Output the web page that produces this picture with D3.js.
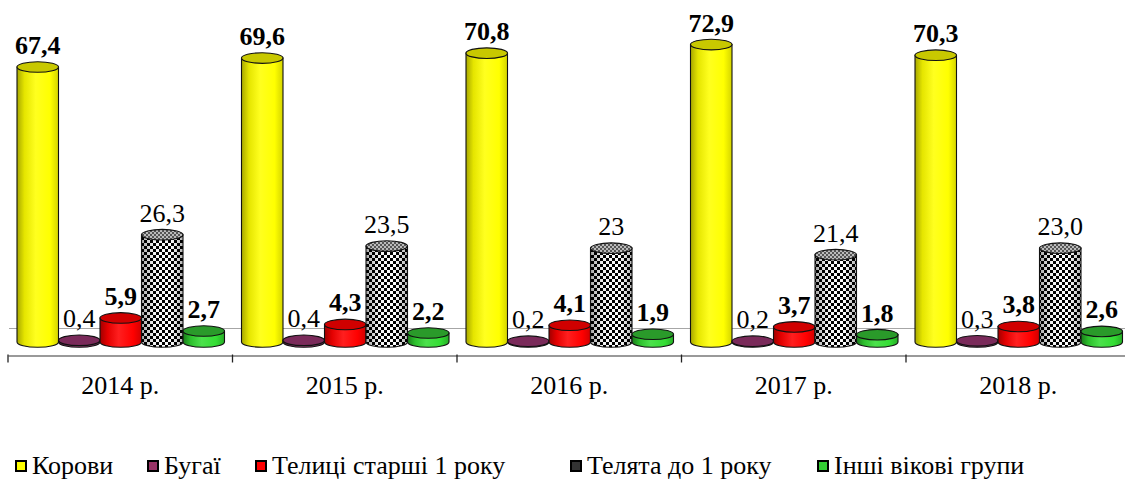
<!DOCTYPE html>
<html><head><meta charset="utf-8">
<script src="https://cdn.jsdelivr.net/npm/d3@7"></script>
</head><body>
<svg id="c" width="1125" height="481" style="position:absolute;left:0;top:0"></svg>
<script>
const years = ["2014 р.", "2015 р.", "2016 р.", "2017 р.", "2018 р."];
const seriesNames = ["Корови", "Бугаї", "Телиці старші 1 року", "Телята до 1 року", "Інші вікові групи"];
const cows    = [67.4, 69.6, 70.8, 72.9, 70.3];
const bulls   = [0.4, 0.4, 0.2, 0.2, 0.3];
const heifers = [5.9, 4.3, 4.1, 3.7, 3.8];
const calves  = [26.3, 23.5, 23.0, 21.4, 23.0];
const others  = [2.7, 2.2, 1.9, 1.8, 2.6];
const labelText = [
  ["67,4","69,6","70,8","72,9","70,3"],
  ["0,4","0,4","0,2","0,2","0,3"],
  ["5,9","4,3","4,1","3,7","3,8"],
  ["26,3","23,5","23","21,4","23,0"],
  ["2,7","2,2","1,9","1,8","2,6"]
];
const values = [cows, bulls, heifers, calves, others];

const styles = [
  {id:"yel", base:"#ffff00", dark:"#a8a800", top:"#c8c800", bold:true},
  {id:"pur", base:"#8a3468", dark:"#4e1a3a", top:"#7a2a5a", bold:false},
  {id:"red", base:"#ff0000", dark:"#a00000", top:"#d00000", bold:true},
  {id:"chk", base:"#ffffff", dark:"#000000", top:"#888888", bold:false, pattern:true},
  {id:"grn", base:"#33dd33", dark:"#1a7a1a", top:"#2a9a2a", bold:true}
];
const legendFill = ["#ffff00","#993366","#ff0000","#333333","#33cc33"];
const legendX = [15, 147, 255, 570, 817];

const svg = d3.select("#c");
const defs = svg.append("defs");
styles.forEach(s => {
  const g = defs.append("linearGradient").attr("id","g_"+s.id).attr("x1","0").attr("x2","1").attr("y1","0").attr("y2","0");
  if (!s.pattern) {
    g.append("stop").attr("offset","0").attr("stop-color",s.dark);
    g.append("stop").attr("offset","0.18").attr("stop-color",d3.interpolateRgb(s.dark,s.base)(0.7));
    g.append("stop").attr("offset","0.45").attr("stop-color",d3.interpolateRgb(s.base,"#ffffff")(0.12));
    g.append("stop").attr("offset","0.8").attr("stop-color",s.base);
    g.append("stop").attr("offset","1").attr("stop-color",d3.interpolateRgb(s.dark,s.base)(0.5));
  } else {
    g.append("stop").attr("offset","0").attr("stop-color","#000").attr("stop-opacity",0.35);
    g.append("stop").attr("offset","0.3").attr("stop-color","#000").attr("stop-opacity",0.05);
    g.append("stop").attr("offset","0.7").attr("stop-color","#000").attr("stop-opacity",0.0);
    g.append("stop").attr("offset","1").attr("stop-color","#000").attr("stop-opacity",0.3);
  }
});
const pat = defs.append("pattern").attr("id","checker").attr("width",6).attr("height",6).attr("patternUnits","userSpaceOnUse");
pat.append("rect").attr("width",6).attr("height",6).attr("fill","#fff");
pat.append("rect").attr("width",3).attr("height",3).attr("fill","#000");
pat.append("rect").attr("x",3).attr("y",3).attr("width",3).attr("height",3).attr("fill","#000");
const pat2 = defs.append("pattern").attr("id","checkerTop").attr("width",4).attr("height",4).attr("patternUnits","userSpaceOnUse");
pat2.append("rect").attr("width",4).attr("height",4).attr("fill","#bbb");
pat2.append("rect").attr("width",2).attr("height",2).attr("fill","#555");
pat2.append("rect").attr("x",2).attr("y",2).attr("width",2).attr("height",2).attr("fill","#555");

const x0 = d3.scaleBand().domain(years).range([8, 1130.5]).padding(0);
const x1 = d3.scaleBand().domain(seriesNames).range([9, 216.5]).padding(0);
const y = d3.scaleLinear().domain([0, 80]).range([342, 342 - 80*4.08]);
const ry = 5.3;

function txt(x, yy, s, bold, anchor) {
  return svg.append("text").attr("x", x).attr("y", yy)
    .style("font-family", '"Liberation Serif"').style("font-size", "26px")
    .style("font-weight", bold ? "bold" : "normal")
    .attr("text-anchor", anchor || "start").text(s);
}

// back floor line
svg.append("line").attr("x1",9).attr("x2",1125).attr("y1",328.5).attr("y2",328.5).attr("stroke","#a6a6a6").attr("stroke-width",1);

// axis (line + boundary ticks), labels centred under each band
const axisY = 355.5;
const ax = svg.append("g").attr("transform",`translate(0,${axisY})`)
  .call(d3.axisBottom(x0).tickSize(0).tickFormat(""));
ax.select(".domain").attr("stroke","#999").attr("stroke-width",2);
const bounds = years.map(d => x0(d)).concat([x0(years[4]) + x0.bandwidth()]);
svg.append("g").selectAll("line").data(bounds).join("line")
  .attr("x1",d=>d).attr("x2",d=>d).attr("y1",axisY-1).attr("y2",axisY+7).attr("stroke","#222").attr("stroke-width",1.3);
years.forEach(yr => txt(x0(yr) + x0.bandwidth()/2, 394, yr, false, "middle"));

// bars
years.forEach((yr, i) => {
  const ox = x0(yr);
  seriesNames.forEach((sn, k) => {
    const s = styles[k];
    const v = values[k][i];
    const xl = ox + x1(sn), w = x1.bandwidth(), rx = w/2, cx = xl + rx;
    const yt = y(v), yb = y(0);
    const body = `M${xl},${yt} L${xl},${yb} A${rx},${ry} 0 0 0 ${xl+w},${yb} L${xl+w},${yt} Z`;
    if (s.pattern) {
      svg.append("path").attr("d",body).attr("fill","url(#checker)");
      svg.append("path").attr("d",body).attr("fill","url(#g_chk)");
      svg.append("path").attr("d",body).attr("fill","none").attr("stroke","#111").attr("stroke-width",1.1);
      svg.append("ellipse").attr("cx",cx).attr("cy",yt).attr("rx",rx).attr("ry",ry).attr("fill","url(#checkerTop)").attr("stroke","#111").attr("stroke-width",1.1);
    } else {
      svg.append("path").attr("d",body).attr("fill",`url(#g_${s.id})`).attr("stroke","#111").attr("stroke-width",1.1);
      svg.append("ellipse").attr("cx",cx).attr("cy",yt).attr("rx",rx).attr("ry",ry).attr("fill",s.top).attr("stroke","#111").attr("stroke-width",1.1);
    }
    txt(cx, yt - 13, labelText[k][i], s.bold, "middle");
  });
});

// legend
seriesNames.forEach((sn, k) => {
  const gx = legendX[k];
  svg.append("rect").attr("x",gx+1).attr("y",461).attr("width",10).attr("height",10)
    .attr("fill",legendFill[k]).attr("stroke","#000").attr("stroke-width",2);
  txt(gx + 17, 474, sn, false);
});
</script>
</body></html>
